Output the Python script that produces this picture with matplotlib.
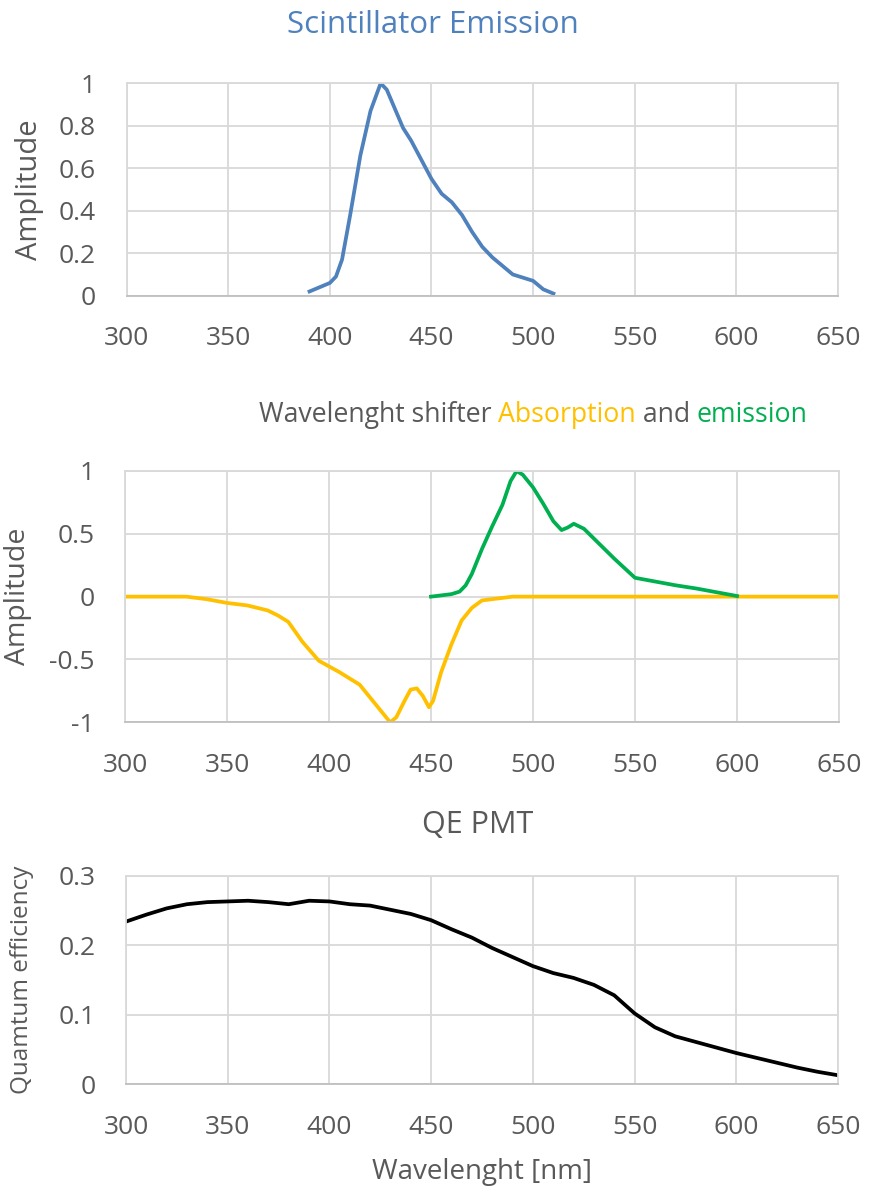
import numpy as np
import matplotlib.pyplot as plt
from matplotlib.text import Annotation

plt.rcParams['font.family'] = ['Open Sans', 'DejaVu Sans']

# Scintillator emission
scint_wl = [390, 395, 400, 403, 406, 410, 415, 420, 425, 428, 432, 436, 440,
            445, 450, 455, 460, 465, 470, 475, 480, 485, 490, 495, 500, 505,
            510]
scint_amp = [0.02, 0.04, 0.06, 0.09, 0.17, 0.38, 0.66, 0.87, 1.0, 0.97,
             0.88, 0.79, 0.73, 0.64, 0.55, 0.48, 0.44, 0.38, 0.30, 0.23,
             0.18, 0.14, 0.10, 0.085, 0.07, 0.03, 0.01]

# Wavelength shifter absorption (negative) and emission
abs_wl = [300, 330, 340, 350, 360, 370, 375, 380, 387, 395, 405, 415, 420,
          425, 430, 433, 437, 440, 443, 446, 449, 451, 455, 460, 465, 470,
          475, 480, 490, 650]
abs_amp = [0, 0, -0.02, -0.05, -0.07, -0.11, -0.15, -0.2, -0.36, -0.51,
           -0.60, -0.70, -0.80, -0.90, -1.0, -0.96, -0.83, -0.74, -0.73,
           -0.79, -0.88, -0.83, -0.60, -0.38, -0.19, -0.09, -0.03, -0.02, 0,
           0]
emi_wl = [450, 460, 464, 467, 470, 475, 480, 485, 489, 492, 495, 500, 505,
          510, 514, 517, 520, 525, 530, 540, 550, 560, 570, 580, 590, 600]
emi_amp = [0, 0.02, 0.04, 0.09, 0.18, 0.38, 0.56, 0.73, 0.92, 1.0, 0.97,
           0.87, 0.74, 0.60, 0.53, 0.55, 0.58, 0.54, 0.46, 0.30, 0.15, 0.12,
           0.09, 0.065, 0.035, 0.005]

# PMT quantum efficiency
qe_wl = list(range(300, 651, 10))
qe = [0.234, 0.244, 0.253, 0.259, 0.262, 0.263, 0.264, 0.262, 0.259, 0.264,
      0.263, 0.259, 0.257, 0.251, 0.245, 0.236, 0.223, 0.211, 0.196, 0.183,
      0.170, 0.160, 0.153, 0.143, 0.128, 0.102, 0.082, 0.069, 0.061, 0.053,
      0.045, 0.038, 0.031, 0.024, 0.018, 0.013]

xticks = [300, 350, 400, 450, 500, 550, 600, 650]

gray = '#595959'
grid = '#D9D9D9'
blue = '#4F81BD'
yellow = '#FFC000'
green = '#00B050'
lw = 2.7

W, H = 869, 1187
fig = plt.figure(figsize=(W / 100, H / 100), dpi=100)


def px_axes(x0, x1, y0, y1):
    return fig.add_axes([x0 / W, 1 - y1 / H, (x1 - x0) / W, (y1 - y0) / H])


def style(ax, yticks, ylabels):
    ax.set_xlim(300, 650)
    ax.set_xticks(xticks)
    ax.set_yticks(yticks)
    ax.set_yticklabels(ylabels)
    ax.grid(True, color=grid, lw=1.3)
    ax.set_axisbelow(True)
    for s in ax.spines.values():
        s.set_color(grid)
        s.set_linewidth(1.3)
    ax.spines['bottom'].set_color('#BFBFBF')
    ax.tick_params(length=0, labelsize=19, labelcolor=gray)
    ax.tick_params(axis='y', pad=22)
    ax.tick_params(axis='x', pad=22)


ax1 = px_axes(126.6, 838, 83.3, 295.7)
ax1.plot(scint_wl, scint_amp, color=blue, lw=lw)
ax1.set_ylim(0, 1)
style(ax1, [0, 0.2, 0.4, 0.6, 0.8, 1], ['0', '0.2', '0.4', '0.6', '0.8', '1'])
ax1.set_ylabel('Amplitude', fontsize=21, color=gray, va='center')
ax1.yaxis.set_label_coords(-0.136, 0.5)

ax2 = px_axes(125, 839, 471, 722.3)
ax2.plot(abs_wl, abs_amp, color=yellow, lw=lw)
ax2.plot(emi_wl, emi_amp, color=green, lw=lw)
ax2.set_ylim(-1, 1)
style(ax2, [-1, -0.5, 0, 0.5, 1], ['-1', '-0.5', '0', '0.5', '1'])
ax2.set_ylabel('Amplitude', fontsize=20.5, color=gray, va='center')
ax2.yaxis.set_label_coords(-0.15, 0.5)

ax3 = px_axes(126, 838, 875.7, 1084.3)
ax3.plot(qe_wl, qe, color='black', lw=lw)
ax3.set_ylim(0, 0.3)
style(ax3, [0, 0.1, 0.2, 0.3], ['0', '0.1', '0.2', '0.3'])
ax3.set_ylabel('Quamtum efficiency', fontsize=17.5, color=gray, va='center')
ax3.yaxis.set_label_coords(-0.146, 0.5)
ax3.set_xlabel('Wavelenght [nm]', fontsize=20, color=gray, va='center')
ax3.xaxis.set_label_coords(0.5, -0.42)

fig.text(433 / W, 1 - 25 / H, 'Scintillator Emission', fontsize=22.5,
         color=blue, ha='center', va='center')
fig.text(478 / W, 1 - 825 / H, 'QE PMT', fontsize=22, color=gray,
         ha='center', va='center')

# multi-coloured title of the middle panel
parts = [('Wavelenght shifter ', gray), ('Absorption', yellow),
         (' and ', gray), ('emission', green)]
prev = fig.text(0, 1 - 415 / H, parts[0][0], fontsize=19.2, color=parts[0][1],
                ha='left', va='center')
pieces = [prev]
for word, col in parts[1:]:
    t = Annotation(word, xy=(1, 0), xycoords=prev, va='bottom', ha='left',
                   fontsize=19.2, color=col)
    fig.add_artist(t)
    pieces.append(t)
    prev = t
fig.canvas.draw()
r = fig.canvas.get_renderer()
total = sum(p.get_window_extent(r).width for p in pieces)
pieces[0].set_x((533 - total / 2) / W)

fig.savefig('out.png', dpi=100)
